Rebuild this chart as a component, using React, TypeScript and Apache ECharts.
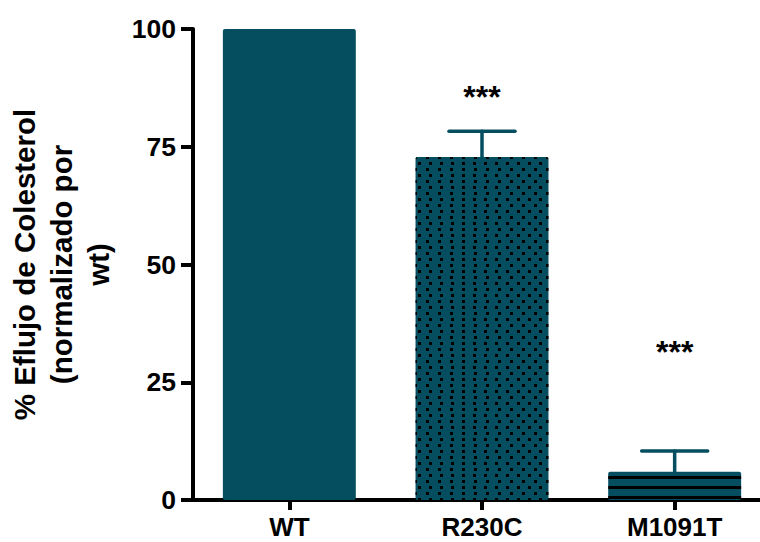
import React, { useEffect, useRef } from "react";
import * as echarts from "echarts";

const categories = ["WT", "R230C", "M1091T"];
const means = [100, 72.8, 6.0];
const errors = [0, 5.5, 4.4];
const stars = ["", "***", "***"];
const starLevels = [0, 85.5, 31.5];
const yTicks = [0, 25, 50, 75, 100];

const TEAL = "#044e5f";
const FONT = "'Liberation Sans', Arial, sans-serif";

export default function App() {
  const ref = useRef<HTMLDivElement>(null);
  useEffect(() => {
    if (!ref.current) return;
    const chart = echarts.init(ref.current, undefined, { renderer: "svg" });
    const decals: any[] = [
      null,
      {
        symbol: "rect",
        symbolSize: 1,
        color: "#000",
        dashArrayX: [[3, 8], [0, 5.5, 3, 2.5]],
        dashArrayY: [3, 2.5],
        rotation: 0,
      },
      {
        symbol: "rect",
        symbolSize: 1,
        color: "#000",
        dashArrayX: [1, 0],
        dashArrayY: [0, 6, 3, 1],
        rotation: 0,
      },
    ];
    chart.setOption({
      animation: false,
      grid: { left: 193, top: 29, bottom: 42, width: 578, containLabel: false, outerBoundsMode: "none" },
      xAxis: {
        type: "category",
        data: categories,
        axisLine: { show: true, lineStyle: { color: "#000", width: 4 } },
        axisTick: { show: true, alignWithLabel: true, length: 10, lineStyle: { color: "#000", width: 4 } },
        axisLabel: { color: "#000", fontFamily: FONT, fontWeight: "bold", fontSize: 26, margin: 14 },
        splitLine: { show: false },
      },
      yAxis: {
        type: "value",
        min: yTicks[0],
        max: yTicks[yTicks.length - 1],
        interval: 25,
        name: "% Eflujo de Colesterol\n(normalizado por\nwt)",
        nameLocation: "middle",
        nameGap: 76,
        nameTextStyle: { color: "#000", fontFamily: FONT, fontWeight: "bold", fontSize: 29.5, lineHeight: 37, align: "center" },
        axisLine: { show: true, lineStyle: { color: "#000", width: 4 } },
        axisTick: { show: true, length: 12, lineStyle: { color: "#000", width: 4 } },
        axisLabel: { color: "#000", fontFamily: FONT, fontWeight: "bold", fontSize: 26.5, margin: 17 },
        splitLine: { show: false },
      },
      series: [
        {
          type: "bar",
          barWidth: "69%",
          data: means.map((v, i) => ({
            value: v,
            itemStyle: {
              color: TEAL,
              borderRadius: 2,
              decal: decals[i] || undefined,
            },
          })),
          z: 2,
        },
        {
          type: "custom",
          z: 3,
          data: means.map((v, i) => [i, v, errors[i]]),
          renderItem: (params: any, api: any) => {
            const i = api.value(0);
            const v = api.value(1);
            const e = api.value(2);
            if (!e) return { type: "group", children: [] };
            const p0 = api.coord([i, v]);
            const p1 = api.coord([i, v + e]);
            const half = 33;
            const style = { stroke: TEAL, lineWidth: 3.5, lineCap: "round" };
            return {
              type: "group",
              children: [
                { type: "line", shape: { x1: p0[0], y1: p0[1], x2: p1[0], y2: p1[1] }, style },
                { type: "line", shape: { x1: p1[0] - half, y1: p1[1], x2: p1[0] + half, y2: p1[1] }, style },
              ],
            };
          },
        },
        {
          type: "custom",
          z: 4,
          data: starLevels.map((v, i) => [i, v, i]),
          renderItem: (params: any, api: any) => {
            const i = api.value(0);
            const v = api.value(1);
            const s = stars[api.value(2)];
            if (!s) return { type: "group", children: [] };
            const p = api.coord([i, v]);
            return {
              type: "text",
              x: p[0],
              y: p[1],
              style: {
                text: s,
                fill: "#000",
                font: `bold 32px ${FONT}`,
                align: "center",
                verticalAlign: "middle",
              },
            };
          },
        },
      ],
    });
    return () => chart.dispose();
  }, []);
  return <div ref={ref} style={{ width: 760, height: 542, position: "absolute", left: 0, top: 0 }} />;
}
